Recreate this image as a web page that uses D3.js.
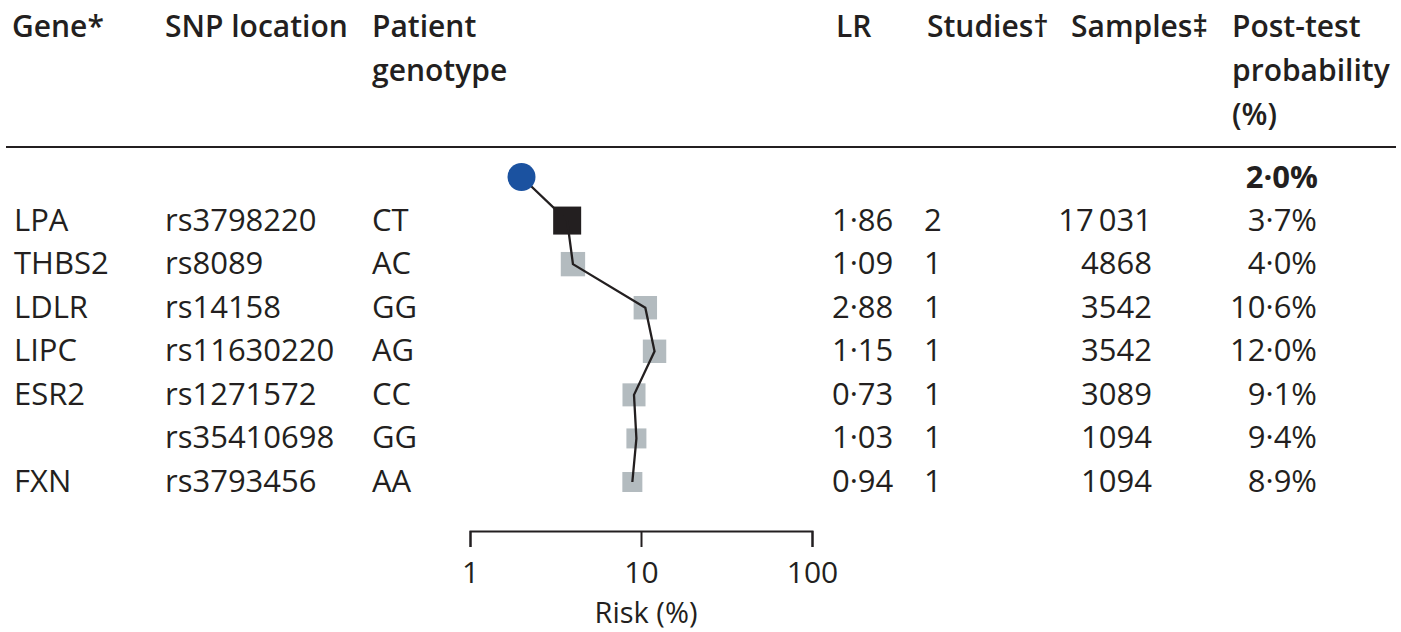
<!DOCTYPE html>
<html>
<head>
<meta charset="utf-8">
<script src="https://cdn.jsdelivr.net/npm/d3@7"></script>
<style>
  body { margin: 0; background: #fff; }
  svg text { font-family: "Open Sans", sans-serif; fill: #231f20; }
</style>
</head>
<body>
<div id="chart"></div>
<script>
// table values
var genes = ["LPA", "THBS2", "LDLR", "LIPC", "ESR2", "", "FXN"]
var snps = ["rs3798220", "rs8089", "rs14158", "rs11630220", "rs1271572", "rs35410698", "rs3793456"]
var genotypes = ["CT", "AC", "GG", "AG", "CC", "GG", "AA"]
var lr = [1.86, 1.09, 2.88, 1.15, 0.73, 1.03, 0.94]
var studies = [2, 1, 1, 1, 1, 1, 1]
var samples = [17031, 4868, 3542, 3542, 3089, 1094, 1094]
var postTest = [3.7, 4.0, 10.6, 12.0, 9.1, 9.4, 8.9]
var preTest = 2.0
var riskTicks = [1, 10, 100]

var W = 1401, H = 632
var ink = "#231f20"

var svg = d3.select("#chart").append("svg")
    .attr("width", W)
    .attr("height", H)

// row centres: row 0 is the pre-test point, rows 1..7 the SNPs
var y = d3.scaleLinear().domain([0, 7]).range([177, 482])
var x = d3.scaleLog().domain([1, 100]).range([470, 812])
var size = d3.scaleLog().domain([1094, 17031]).range([20, 28])

var dot = function(s) { return s.replace(".", "\u00b7") }
var fmtLR = function(v) { return dot(d3.format(".2f")(v)) }
var fmtPct = function(v) { return dot(d3.format(".1f")(v)) + "%" }
var fmtN = function(v) {
    var s = String(v)
    if (v >= 10000) s = s.slice(0, s.length - 3) + "\u2009" + s.slice(-3)
    return s
}

// header
var head = svg.append("g").attr("font-weight", 600).attr("font-size", 30)
var headers = [
    {x: 12, lines: ["Gene*"]},
    {x: 165, lines: ["SNP location"]},
    {x: 372, lines: ["Patient", "genotype"]},
    {x: 836, lines: ["LR"]},
    {x: 927, lines: ["Studies\u2020"]},
    {x: 1071, lines: ["Samples\u2021"]},
    {x: 1232, lines: ["Post-test", "probability", "(%)"]}
]
headers.forEach(function(h) {
    h.lines.forEach(function(l, i) {
        head.append("text").attr("x", h.x).attr("y", 37 + i * 44).text(l)
    })
})

svg.append("line")
    .attr("x1", 6).attr("x2", 1396)
    .attr("y1", 147).attr("y2", 147)
    .attr("stroke", ink).attr("stroke-width", 2)

// table body
var body = svg.append("g").attr("font-size", 31)
var rows = d3.range(snps.length)
function col(vals, xpos, anchor) {
    body.selectAll(null)
        .data(vals)
        .enter()
        .append("text")
        .attr("x", xpos)
        .attr("y", function(d, i) { return y(i + 1) + 10 })
        .attr("text-anchor", anchor)
        .text(function(d) { return d })
}
col(genes, 14, "start")
col(snps, 165, "start")
col(genotypes, 372, "start")
col(lr.map(fmtLR), 832, "start")
col(studies, 924, "start")
col(samples.map(fmtN), 1152, "end")
col(postTest.map(fmtPct), 1317, "end")

body.append("text")
    .attr("x", 1318).attr("y", y(0) + 11)
    .attr("text-anchor", "end")
    .attr("font-weight", 700)
    .text(fmtPct(preTest))

// risk path
var pts = [preTest].concat(postTest)
var line = d3.line()
    .x(function(d) { return x(d) })
    .y(function(d, i) { return y(i) })

var plot = svg.append("g")

plot.selectAll("rect")
    .data(rows)
    .enter()
    .append("rect")
    .attr("x", function(i) { return x(postTest[i]) - size(samples[i]) / 2 })
    .attr("y", function(i) { return y(i + 1) - size(samples[i]) / 2 })
    .attr("width", function(i) { return size(samples[i]) })
    .attr("height", function(i) { return size(samples[i]) })
    .attr("fill", function(i) { return studies[i] > 1 ? ink : "#b3bbbf" })

plot.append("path")
    .attr("d", line(pts))
    .attr("fill", "none")
    .attr("stroke", ink)
    .attr("stroke-width", 2.3)

plot.append("circle")
    .attr("cx", x(preTest))
    .attr("cy", y(0))
    .attr("r", 14)
    .attr("fill", "#1b52a0")

// axis
var ax = svg.append("g")
    .attr("transform", "translate(0,531)")
    .call(d3.axisBottom(x).tickValues(riskTicks).tickFormat(d3.format("d")).tickSize(16).tickPadding(15))
ax.selectAll("path, line").attr("stroke", ink).attr("stroke-width", 2)
ax.selectAll("text").attr("font-size", 30).attr("font-family", "Open Sans, sans-serif").attr("fill", ink)

svg.append("text")
    .attr("x", 646).attr("y", 623)
    .attr("text-anchor", "middle")
    .attr("font-size", 29)
    .text("Risk (%)")
</script>
</body>
</html>
